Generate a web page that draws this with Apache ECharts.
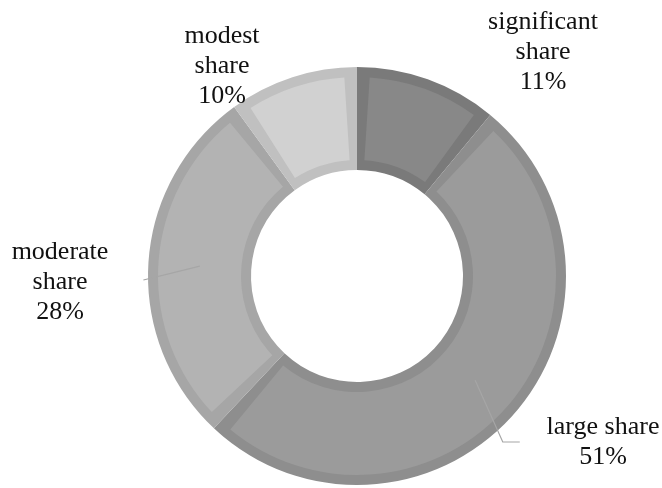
<!DOCTYPE html>
<html><head><meta charset="utf-8">
<script src="https://cdn.jsdelivr.net/npm/echarts@6/dist/echarts.min.js"></script>
<style>html,body{margin:0;padding:0;background:#fff}#c{width:662px;height:488px}</style>
</head><body><div id="c"></div>
<script>
const categories = ['significant share', 'large share', 'moderate share', 'modest share'];
const labelNames = ['significant\nshare', 'large share', 'moderate\nshare', 'modest\nshare'];
const values = [11, 51, 28, 10];
const fillColors = ['#888888', '#9b9b9b', '#b3b3b3', '#d1d1d1'];
const edgeColors = ['#7a7a7a', '#8e8e8e', '#a6a6a6', '#c0c0c0'];
const hasLeader = [false, true, true, false];

const chart = echarts.init(document.getElementById('c'), null, {renderer: 'canvas'});
const center = [357, 276];
const labelPos = [[543, 52], [603, 442], [60, 282], [222, 66]];

function layoutLabel(p) {
  const i = p.dataIndex;
  const pos = labelPos[i];
  const res = {x: pos[0], y: pos[1], align: 'center', verticalAlign: 'middle'};
  if (hasLeader[i]) {
    let start;
    try {
      const lay = chart.getModel().getSeriesByIndex(2).getData().getItemLayout(i);
      const mid = (lay.startAngle + lay.endAngle) / 2;
      const rm = (lay.r + lay.r0) / 2;
      start = [lay.cx + rm * Math.cos(mid), lay.cy + rm * Math.sin(mid)];
    } catch (e) {
      start = p.labelLinePoints ? p.labelLinePoints[0] : [pos[0], pos[1]];
    }
    const r = p.labelRect;
    if (i === 2) {
      const end = [r.x + r.width + 10, pos[1] - 2];
      res.labelLinePoints = [start, [(start[0] + end[0]) / 2, (start[1] + end[1]) / 2], end];
    } else {
      const end = [r.x - 9, pos[1]];
      res.labelLinePoints = [start, [end[0] - 17, end[1]], end];
    }
  }
  return res;
}

const ringData = values.map((v, i) => ({name: categories[i], value: v, itemStyle: {color: edgeColors[i]}}));
const fillData = values.map((v, i) => ({name: categories[i], value: v, itemStyle: {color: fillColors[i]}}));
const labelData = values.map((v, i) => ({
  name: categories[i], value: v,
  itemStyle: {color: 'rgba(0,0,0,0)'},
  labelLine: {show: hasLeader[i]}
}));

chart.setOption({
  animation: false,
  backgroundColor: '#ffffff',
  series: [
    {
      type: 'pie', z: 1, center: center, radius: [106, 209], startAngle: 90, clockwise: true,
      silent: true, avoidLabelOverlap: false,
      label: {show: false}, labelLine: {show: false},
      emphasis: {disabled: true},
      itemStyle: {borderWidth: 0},
      data: ringData
    },
    {
      type: 'pie', z: 2, center: center, radius: [116, 199], startAngle: 90, clockwise: true,
      padAngle: 7.3, silent: true, avoidLabelOverlap: false,
      label: {show: false}, labelLine: {show: false},
      emphasis: {disabled: true},
      itemStyle: {borderWidth: 0},
      data: fillData
    },
    {
      type: 'pie', z: 5, center: center, radius: [116, 199], startAngle: 90, clockwise: true,
      silent: true, avoidLabelOverlap: false,
      emphasis: {disabled: true},
      itemStyle: {borderWidth: 0},
      label: {
        show: true, position: 'outside',
        fontFamily: 'Liberation Serif', fontSize: 26, lineHeight: 30, color: '#111111',
        formatter: (p) => labelNames[p.dataIndex] + '\n' + p.value + '%'
      },
      labelLine: {show: true, length: 10, length2: 10, lineStyle: {color: '#a6a6a6', width: 1.2}},
      labelLayout: layoutLabel,
      data: labelData
    }
  ]
});
</script>
</body></html>
